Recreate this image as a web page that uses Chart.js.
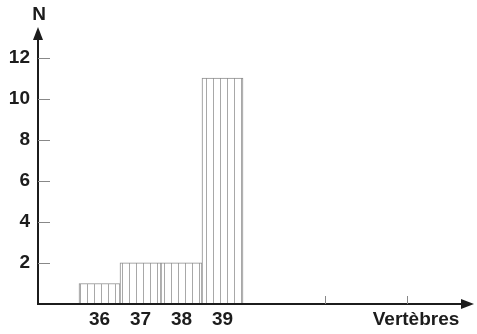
<!DOCTYPE html>
<html>
<head>
<meta charset="utf-8">
<script src="https://cdn.jsdelivr.net/npm/chart.js@4"></script>
<style>
  html, body { margin: 0; padding: 0; background: #fff; }
  #wrap { width: 477px; height: 334px; }
</style>
</head>
<body>
<div id="wrap"><canvas id="vert-chart"></canvas></div>
<script>
// vertebrae counts per class
const vertebres = ["35", "36", "37", "38", "39", "40", "41", "42", "43", "44"];
const effectifs = [0, 1, 2, 2, 11, 0, 0, 0, 0, 0];
const shownLabels = ["36", "37", "38", "39"];
const yTicks = [2, 4, 6, 8, 10, 12];
// small marks on the x axis, between classes
const xMarks = [41.5, 43.5];

const ink = "#1c1c1c";
const font = { family: "'Liberation Sans', Arial, sans-serif", size: 19, weight: "bold" };

// vertical hatching for the bars
const hatch = (() => {
  const c = document.createElement("canvas");
  c.width = 7;
  c.height = 4;
  const g = c.getContext("2d");
  g.fillStyle = "#fff";
  g.fillRect(0, 0, 7, 4);
  g.fillStyle = "#a8a8a8";
  g.fillRect(3, 0, 1, 4);
  return g.createPattern(c, "repeat");
})();

const axesPlugin = {
  id: "axes",
  afterDraw(chart) {
    const ctx = chart.ctx;
    const x = chart.scales.x, y = chart.scales.y;
    const x0 = chart.chartArea.left, y0 = y.getPixelForValue(0);
    ctx.save();
    ctx.strokeStyle = ink;
    ctx.fillStyle = ink;
    ctx.lineWidth = 2;
    // axis lines
    ctx.beginPath();
    ctx.moveTo(x0, y0);
    ctx.lineTo(x0, 36);
    ctx.moveTo(x0 - 1, y0);
    ctx.lineTo(464, y0);
    ctx.stroke();
    // arrow heads
    ctx.beginPath();
    ctx.moveTo(x0, 27);
    ctx.lineTo(x0 - 5, 40);
    ctx.lineTo(x0 + 5, 40);
    ctx.closePath();
    ctx.fill();
    ctx.beginPath();
    ctx.moveTo(474, y0);
    ctx.lineTo(461, y0 - 5);
    ctx.lineTo(461, y0 + 5);
    ctx.closePath();
    ctx.fill();
    // inner tick marks
    ctx.strokeStyle = "#888";
    ctx.lineWidth = 1;
    ctx.beginPath();
    yTicks.forEach(v => {
      const py = Math.round(y.getPixelForValue(v)) + 0.5;
      ctx.moveTo(x0, py);
      ctx.lineTo(x0 + 12, py);
    });
    const step = x.getPixelForValue(1) - x.getPixelForValue(0);
    xMarks.forEach(v => {
      const px = Math.round(x.getPixelForValue(0) + (v - 35) * step) + 0.5;
      ctx.moveTo(px, y0);
      ctx.lineTo(px, y0 - 8);
    });
    ctx.stroke();
    // axis names
    ctx.fillStyle = ink;
    ctx.font = "bold 19px 'Liberation Sans', Arial, sans-serif";
    ctx.textAlign = "center";
    ctx.textBaseline = "middle";
    ctx.fillText("N", x0 + 1, 15);
    ctx.fillText("Vertèbres", 416, 320);
    ctx.restore();
  }
};

new Chart(document.querySelector("#vert-chart"), {
  type: "bar",
  data: {
    labels: vertebres,
    datasets: [{
      data: effectifs,
      backgroundColor: hatch,
      borderColor: "#8c8c8c",
      borderWidth: 1,
      borderSkipped: "bottom",
      barPercentage: 1,
      categoryPercentage: 1
    }]
  },
  options: {
    responsive: true,
    maintainAspectRatio: false,
    animation: false,
    layout: { padding: { left: 0, right: 29, top: 37, bottom: 0 } },
    plugins: { legend: { display: false }, tooltip: { enabled: false } },
    scales: {
      x: {
        grid: { display: false, drawTicks: false },
        border: { display: false },
        afterFit: s => { s.height = 30; },
        ticks: {
          color: ink,
          font: font,
          padding: 4,
          autoSkip: false,
          maxRotation: 0,
          callback: (v, i) => shownLabels.includes(vertebres[i]) ? vertebres[i] : ""
        }
      },
      y: {
        min: 0,
        max: 13,
        grid: { display: false, drawTicks: false },
        border: { display: false },
        afterFit: s => { s.width = 38; },
        afterBuildTicks: s => { s.ticks = [0].concat(yTicks).map(v => ({ value: v })); },
        ticks: {
          color: ink,
          font: font,
          padding: 8,
          callback: v => yTicks.includes(v) ? String(v) : ""
        }
      }
    }
  },
  plugins: [axesPlugin]
});
</script>
</body>
</html>
